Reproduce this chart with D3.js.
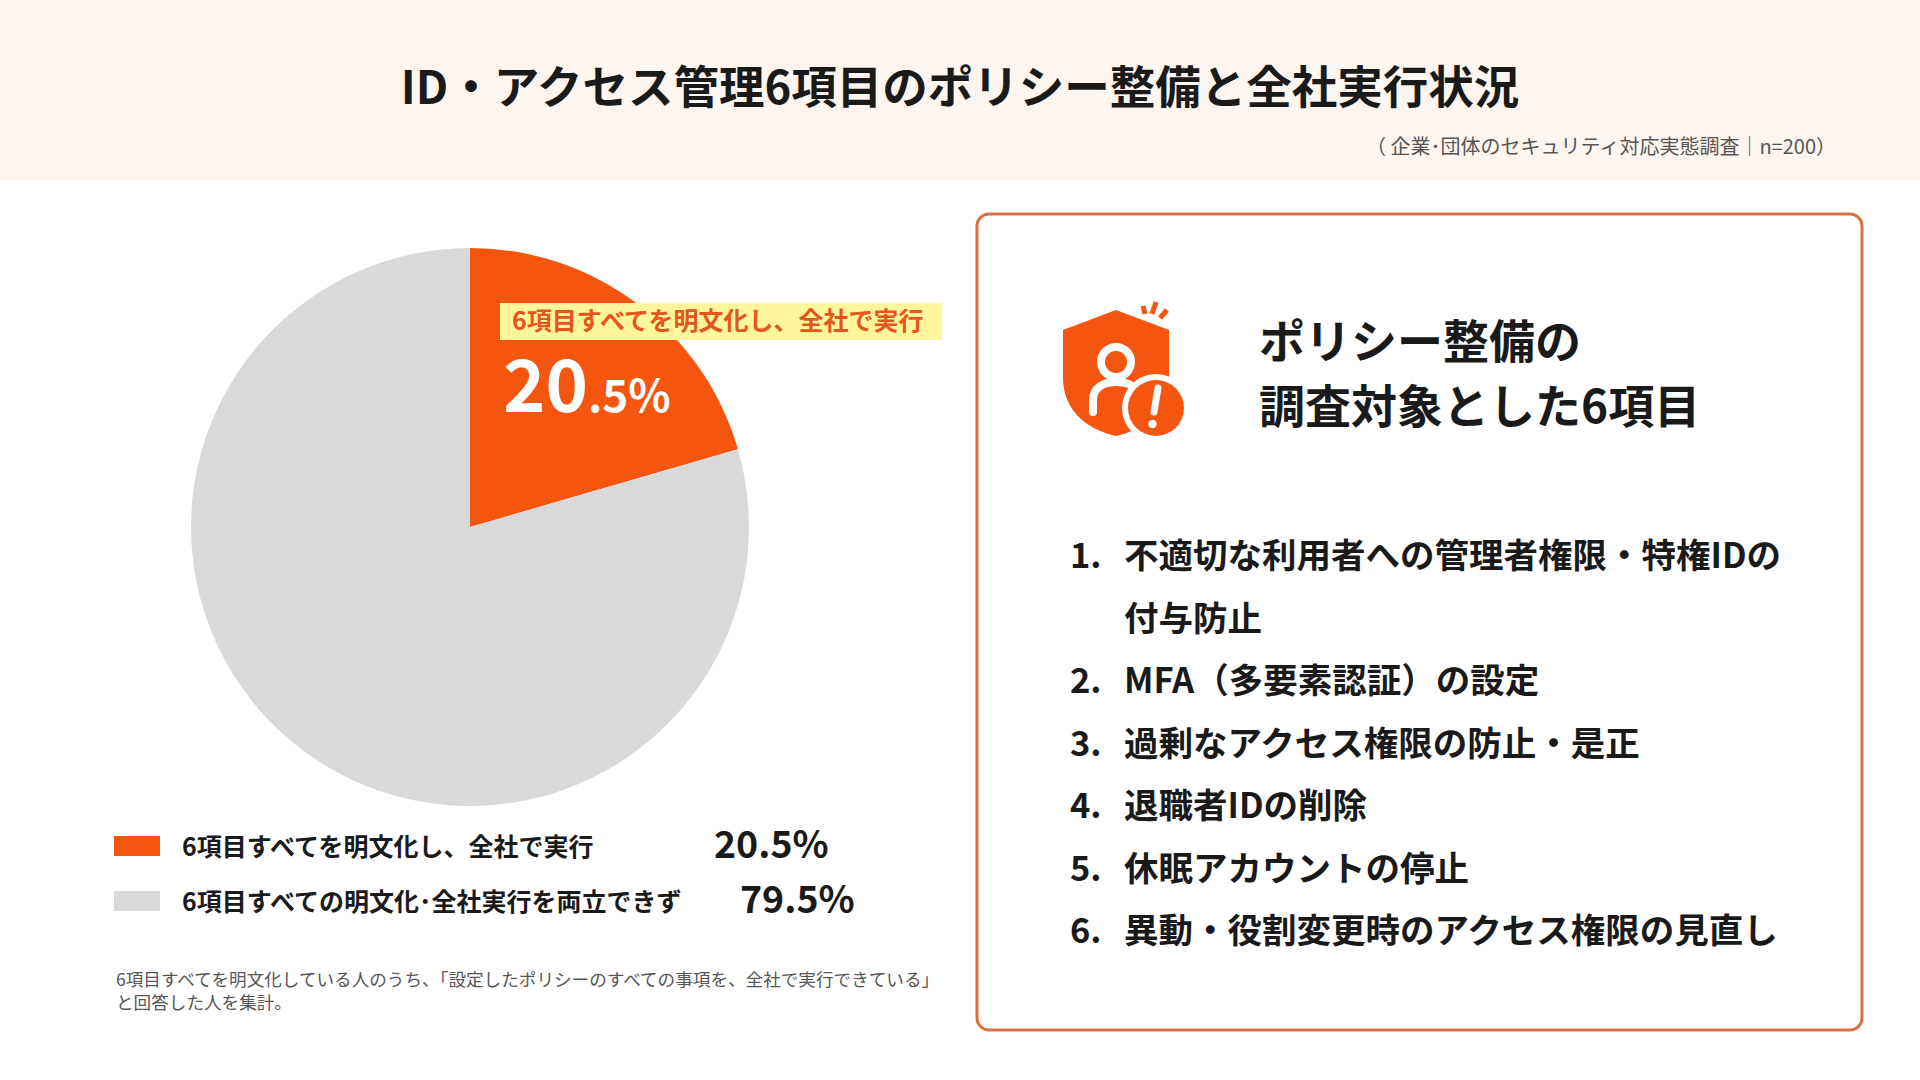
<!DOCTYPE html>
<html>
<head>
<meta charset="utf-8">
<script src="https://cdn.jsdelivr.net/npm/d3@7"></script>
<style>
  body { margin: 0; background: #fff; }
  svg text { font-family: "Noto Sans CJK JP", "Noto Sans", sans-serif; }
</style>
</head>
<body>
<div id="chart"></div>
<script>
// データ
var categories = ["6項目すべてを明文化し、全社で実行", "6項目すべての明文化･全社実行を両立できず"];
var values = [20.5, 79.5];
var colors = ["#f4560f", "#d9d9d9"];
var valueLabels = ["20.5%", "79.5%"];
var policyItems = [
  ["不適切な利用者への管理者権限・特権IDの", "付与防止"],
  ["MFA（多要素認証）の設定"],
  ["過剰なアクセス権限の防止・是正"],
  ["退職者IDの削除"],
  ["休眠アカウントの停止"],
  ["異動・役割変更時のアクセス権限の見直し"]
];
var titleText = "ID・アクセス管理6項目のポリシー整備と全社実行状況";
var sourceText = "（ 企業･団体のセキュリティ対応実態調査｜n=200）";
var noteLines = ["6項目すべてを明文化している人のうち、「設定したポリシーのすべての事項を、全社で実行できている」", "と回答した人を集計。"];

var width = 1920, height = 1080;
var orange = "#f4560f";

var svg = d3.select("#chart").append("svg")
  .attr("width", width)
  .attr("height", height);

// ヘッダー
svg.append("rect").attr("x", 0).attr("y", 0).attr("width", width).attr("height", 180).attr("fill", "#fdf6f0");
svg.append("text")
  .attr("x", width / 2).attr("y", 104)
  .attr("text-anchor", "middle")
  .attr("font-size", 45.5).attr("font-weight", 700).attr("fill", "#1a1a1a")
  .text(titleText);
svg.append("text")
  .attr("x", 1836).attr("y", 154)
  .attr("text-anchor", "end")
  .attr("font-size", 20).attr("fill", "#555")
  .text(sourceText);

// 円グラフ
var cx = 470, cy = 527, radius = 279;
var pie = d3.pie().sort(null).value(d => d);
var arc = d3.arc().innerRadius(0).outerRadius(radius);
var g = svg.append("g").attr("transform", "translate(" + cx + "," + cy + ")");
g.selectAll("path")
  .data(pie(values))
  .enter()
  .append("path")
  .attr("d", arc)
  .attr("fill", (d, i) => colors[i]);

// スライスのラベル
svg.append("rect").attr("x", 500).attr("y", 303).attr("width", 442).attr("height", 37).attr("fill", "#fff59d");
svg.append("text")
  .attr("x", 512).attr("y", 330)
  .attr("font-size", 25).attr("font-weight", 700).attr("fill", "#e4561b")
  .text(categories[0]);
var big = svg.append("text")
  .attr("x", 503).attr("y", 412)
  .attr("font-weight", 700).attr("fill", "#fff");
big.append("tspan").attr("font-size", 72).text(valueLabels[0].split(".")[0]);
big.append("tspan").attr("font-size", 44).text("." + valueLabels[0].split(".")[1]);

// 凡例
var legendY = [856, 911];
var valueX = [714, 740];
var legend = svg.selectAll(".legend")
  .data(categories)
  .enter()
  .append("g")
  .attr("class", "legend");
legend.append("rect")
  .attr("x", 114).attr("y", (d, i) => legendY[i] - 20)
  .attr("width", 46).attr("height", 20)
  .attr("fill", (d, i) => colors[i]);
legend.append("text")
  .attr("x", 182).attr("y", (d, i) => legendY[i])
  .attr("font-size", 25).attr("font-weight", 700).attr("fill", "#1a1a1a")
  .text(d => d);
legend.append("text")
  .attr("x", (d, i) => valueX[i]).attr("y", (d, i) => legendY[i] + 2)
  .attr("font-size", 37.5).attr("font-weight", 700).attr("fill", "#1a1a1a")
  .text((d, i) => valueLabels[i]);

// 注記
svg.selectAll(".note")
  .data(noteLines)
  .enter()
  .append("text")
  .attr("x", 116).attr("y", (d, i) => 986 + i * 23)
  .attr("font-size", 17.6).attr("fill", "#555")
  .text(d => d);

// 右パネル
svg.append("rect")
  .attr("x", 977).attr("y", 214).attr("width", 885).attr("height", 816)
  .attr("rx", 12)
  .attr("fill", "#fff").attr("stroke", "#d9713f").attr("stroke-width", 3);

// アイコン
var icon = svg.append("g").attr("transform", "translate(1063,300)");
icon.append("path")
  .attr("d", "M53,10 L106,30 L106,78 C106,112 80,130 53,136 C26,130 0,112 0,78 L0,30 Z")
  .attr("fill", orange);
icon.append("circle").attr("cx", 53).attr("cy", 62).attr("r", 15)
  .attr("fill", "none").attr("stroke", "#fff").attr("stroke-width", 8);
icon.append("path")
  .attr("d", "M30,112 L30,100 C30,88 40,82 53,82 C62,82 70,85 74,90")
  .attr("fill", "none").attr("stroke", "#fff").attr("stroke-width", 8).attr("stroke-linecap", "round");
icon.append("circle").attr("cx", 93).attr("cy", 108).attr("r", 34).attr("fill", "#fff");
icon.append("circle").attr("cx", 93).attr("cy", 108).attr("r", 28).attr("fill", orange);
icon.append("path")
  .attr("d", "M95,88 L91,112")
  .attr("stroke", "#fff").attr("stroke-width", 7).attr("stroke-linecap", "round");
icon.append("circle").attr("cx", 89.5).attr("cy", 124).attr("r", 4.2).attr("fill", "#fff");
["M80,6 L82,14", "M93,2 L89,14", "M104,10 L97,18"].forEach(function (p) {
  icon.append("path").attr("d", p)
    .attr("stroke", orange).attr("stroke-width", 5);
});

svg.append("text")
  .attr("x", 1259).attr("y", 358)
  .attr("font-size", 46).attr("font-weight", 700).attr("fill", "#1a1a1a")
  .text("ポリシー整備の");
svg.append("text")
  .attr("x", 1259).attr("y", 423)
  .attr("font-size", 46).attr("font-weight", 700).attr("fill", "#1a1a1a")
  .text("調査対象とした6項目");

// 項目リスト
var lineY = 568, lineStep = 62.5;
var rows = [];
policyItems.forEach(function (lines, i) {
  lines.forEach(function (t, j) {
    rows.push({ num: j === 0 ? (i + 1) + "." : "", text: t });
  });
});
var list = svg.selectAll(".item")
  .data(rows)
  .enter()
  .append("g")
  .attr("class", "item");
list.append("text")
  .attr("x", 1070).attr("y", (d, i) => lineY + i * lineStep)
  .attr("font-size", 34.5).attr("font-weight", 700).attr("fill", "#1a1a1a")
  .text(d => d.num);
list.append("text")
  .attr("x", 1124).attr("y", (d, i) => lineY + i * lineStep)
  .attr("font-size", 34.5).attr("font-weight", 700).attr("fill", "#1a1a1a")
  .text(d => d.text);
</script>
</body>
</html>
